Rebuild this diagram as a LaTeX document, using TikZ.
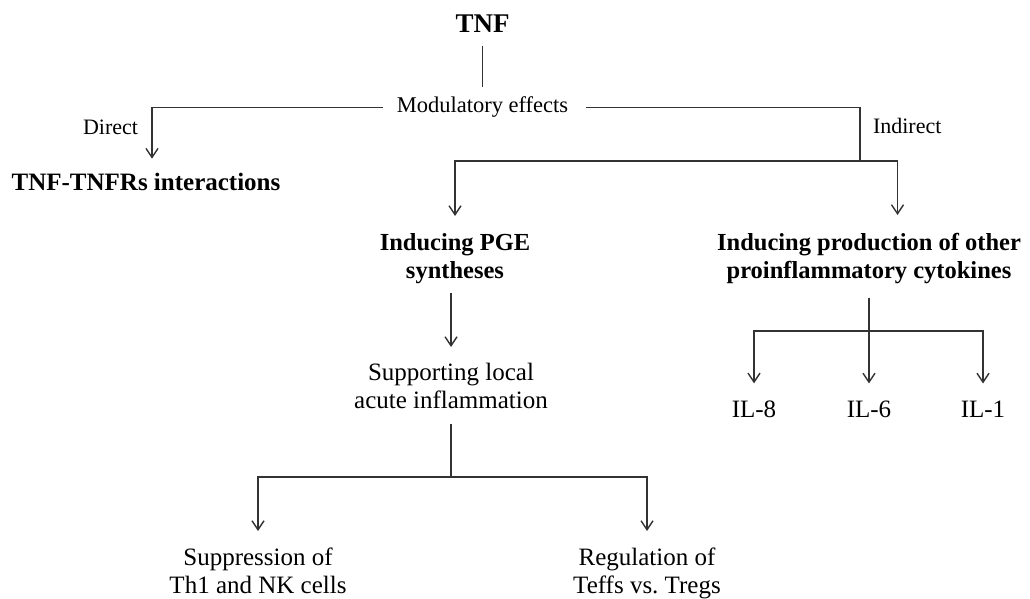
\documentclass[tikz,border=0pt]{standalone}
\usepackage{fontspec}
\setmainfont{Liberation Serif}
\usetikzlibrary{positioning,arrows.meta}

\begin{document}
\begin{tikzpicture}[x=1pt, y=-1pt,
		>={Straight Barb[length=9pt,width=12pt]},
		txt/.style={inner sep=0pt, outer sep=0pt, align=center},
		big/.style={txt, font=\fontsize{25}{28}\selectfont},
		bigb/.style={txt, font=\fontsize{24.5}{28}\selectfont\bfseries},
		small/.style={txt, font=\fontsize{22}{26}\selectfont},
		conn/.style={draw=black!80, line width=1.4pt}]
		
		\useasboundingbox (0,0) rectangle (1030,599);
		
		% Top
		\node (tnf) [txt, font=\fontsize{27}{30}\selectfont\bfseries, anchor=base] at (482.5,33) {TNF};
		\node (mod) [small, font=\fontsize{22.5}{26}\selectfont, anchor=base] at (482.5,113) {Modulatory effects};
		\node (direct) [small, anchor=base east] at (138,135) {Direct};
		\node (indirect) [small, anchor=base west] at (873,133) {Indirect};
		\coordinate (ij) at (860,161);
		
		% Direct
		\node (tnfr) [bigb, font=\fontsize{25}{28}\selectfont\bfseries, anchor=base] at (146,190) {TNF-TNFRs interactions};
		
		% Indirect
		\node (pge) [bigb, anchor=north] at (455,233) {Inducing PGE\\syntheses};
		\node (prod) [bigb, anchor=north] at (869,233) {Inducing production of other\\proinflammatory cytokines};
		\node (sup) [big, anchor=north] at (451,363) {Supporting local\\acute inflammation};
		\coordinate (sj) at (451,477);
		\node (supp) [big, anchor=north] at (258,548) {Suppression of\\Th1 and NK cells};
		\node (reg) [big, anchor=north] at (647,548) {Regulation of\\Teffs vs.\ Tregs};
		
		% Cytokines
		\coordinate (pj) at (869,331);
		\node (il8) [big, anchor=base] at (754,417) {IL-8};
		\node (il6) [big, anchor=base] at (869,417) {IL-6};
		\node (il1) [big, anchor=base] at (983,417) {IL-1};
		
		% Connections
		\draw[conn, shorten <=13pt, shorten >=10pt] (tnf) -- (mod);
		\draw[conn, ->, shorten <=14pt, shorten >=14pt] (mod.west) -| ([xshift=6pt]tnfr.north);
		\draw[conn, shorten <=18pt] (mod.east) -| (ij);
		\draw[conn, ->, shorten >=17pt] (ij) -| (pge.north);
		\draw[conn, ->, shorten >=18pt] (ij) -| ([xshift=28.5pt]prod.north);
		
		\draw[conn, ->, shorten <=10pt, shorten >=16pt] (pge.south -| sup.north) -- (sup.north);
		\draw[conn, shorten <=15pt] (sup) -- (sj);
		\draw[conn, ->, shorten >=17pt] (sj) -| (supp);
		\draw[conn, ->, shorten >=17pt] (sj) -| (reg);
		
		\draw[conn, shorten <=14pt] (prod) -- (pj);
		\draw[conn, ->, shorten >=17pt] (pj) -| (il8);
		\draw[conn, ->, shorten >=17pt] (pj) -- (il6);
		\draw[conn, ->, shorten >=17pt] (pj) -| (il1);
		
	\end{tikzpicture}
\end{document}
